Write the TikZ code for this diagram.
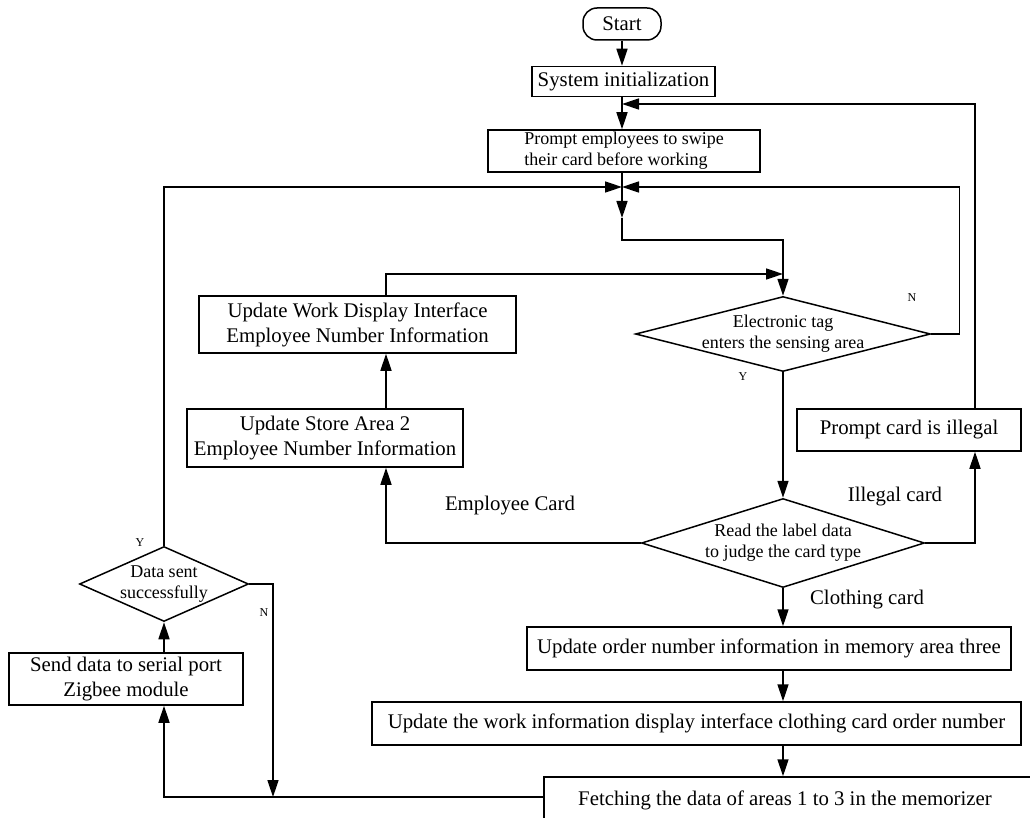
\documentclass[tikz,border=0pt]{standalone}
\usepackage{fontspec}
\setmainfont{Liberation Serif}
\usetikzlibrary{positioning,arrows.meta,shapes.geometric}

\begin{document}
\begin{tikzpicture}[
  x=1pt, y=-1pt,
  font=\fontsize{20.8}{25}\selectfont,
  box/.style={rectangle, draw=black, line width=1.5pt, inner sep=0pt, align=center},
  smallbox/.style={box, font=\fontsize{18}{21}\selectfont},
  term/.style={box, rounded corners=14pt},
  decide/.style={diamond, draw=black, line width=1.5pt, inner sep=-8pt, aspect=3.5,
                 align=center, font=\fontsize{18}{21}\selectfont},
  yn/.style={inner sep=0pt, font=\fontsize{12}{12}\selectfont},
  note/.style={inner sep=0pt},
  arr/.style={-{Triangle[length=17pt,width=11pt]}, line width=1.5pt}
]
\useasboundingbox (0,0) rectangle (1030,818);
\clip (0,0) rectangle (1030,818);

% main column
\node[term, minimum width=78pt, minimum height=32pt] (start) at (622,24) {Start};
\node[box, minimum width=183pt, minimum height=30pt] (init) at (623.5,81.5) {System initialization};
\node[smallbox, align=left, minimum width=272pt, minimum height=42pt] (prompt) at (624,151)
  {Prompt employees to swipe\\their card before working};
\node[decide, minimum width=295pt, minimum height=75pt] (sense) at (783,334)
  {Electronic tag\\enters the sensing area};
\node[decide, minimum width=283pt, minimum height=89pt] (read) at (783,543)
  {Read the label data\\to judge the card type};
\node[box, minimum width=224pt, minimum height=42pt] (illegal) at (909,430) {Prompt card is illegal};
\node[box, minimum width=484pt, minimum height=43pt] (order) at (769,648.5)
  {Update order number information in memory area three};
\node[box, minimum width=649pt, minimum height=43pt] (display) at (696.5,723.5)
  {Update the work information display interface clothing card order number};
\node[box, text height=28pt, text depth=25pt, minimum width=500pt] (fetch) at (794,803.5)
  {\hspace*{-18pt}Fetching the data of areas 1 to 3 in the memorizer};

% left side
\node[box, minimum width=317pt, minimum height=57pt] (work) at (357.5,324.5)
  {Update Work Display Interface\\Employee Number Information};
\node[box, minimum width=276pt, minimum height=58pt] (store) at (325,438)
  {Update Store Area 2\\Employee Number Information};
\node[decide, minimum width=169pt, minimum height=75pt] (sent) at (164,584)
  {Data sent\\successfully};
\node[box, minimum width=234pt, minimum height=52pt] (send) at (126,679)
  {Send data to serial port\\Zigbee module};

% labels
\node[yn] (nsense) at (912,298) {N};
\node[yn] (ysense) at (743,377) {Y};
\node[note] (lemp) at (510,506) {Employee Card};
\node[note] (lill) at (895,497) {Illegal card};
\node[note] (lclo) at (867,600) {Clothing card};
\node[yn] (ysent) at (140,543) {Y};
\node[yn] (nsent) at (264,613) {N};

% joints
\coordinate (j1) at (622,104);
\coordinate (j2) at (622,187);
\coordinate (j3) at (622,218);
\coordinate (j4) at (622,240);
\coordinate (j5) at (783,274);
\coordinate (cr) at (975,104);
\coordinate (cw) at (386,274);
\coordinate (cl) at (164,797);
\coordinate (cn) at (273,797);

\draw[arr] (start.south) -- (start.south |- init.north);
\draw[arr] (init.south -| j1) -- (prompt.north -| j1);
\draw[arr] (cr |- illegal.north) -- (cr) -- (j1);
\draw[arr] (prompt.south -| j2) -- (j3);
\draw[arr] (j3) -- (j4) -| (sense.north);
\draw[arr] (cw |- work.north) -- (cw) -- (j5);
\draw[arr] (sense.east) -- ++(28,0) |- (j2);
\draw[arr] (sense.south) -- (read.north);
\draw[arr] (read.west) -| (cw |- store.south);
\draw[arr] (cw |- store.north) -- (cw |- work.south);
\draw[arr] (read.east) -| (cr |- illegal.south);
\draw[arr] (read.south) -- (read.south |- order.north);
\draw[arr] (read.south |- order.south) -- (read.south |- display.north);
\draw[arr] (read.south |- display.south) -- (read.south |- fetch.north);
\draw[arr] (fetch.north west |- cl) -- (cl) -- (cl |- send.south);
\draw[arr] (cl |- send.north) -- (sent.south);
\draw[arr] (sent.north) |- (j2);
\draw[arr] (sent.east) -| (cn);
\end{tikzpicture}
\end{document}
